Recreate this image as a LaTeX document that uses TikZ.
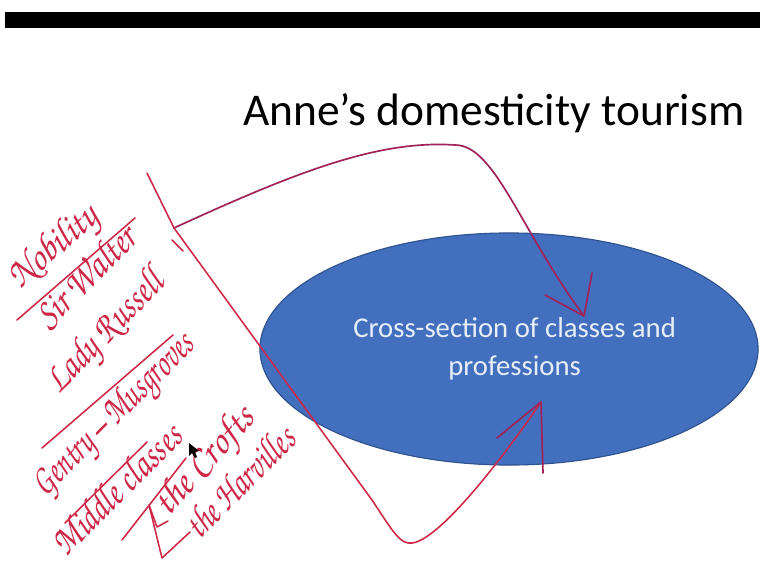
\documentclass[tikz,border=0pt]{standalone}
\usepackage[T1]{fontenc}
\usepackage{fontspec}
\setmainfont{Carlito}
\usepackage{graphicx}
\usetikzlibrary{shapes.geometric}

\definecolor{ink}{RGB}{206,38,70}
\definecolor{inkdark}{RGB}{160,34,88}
\definecolor{ovalblue}{RGB}{66,111,190}
\definecolor{ovaledge}{RGB}{47,82,143}
\newcommand{\hand}[2]{\resizebox{#1}{\height}{\usefont{T1}{pzc}{mb}{it}#2}}

\begin{document}
\begin{tikzpicture}[x=0.025cm,y=-0.025cm,
   note/.style={anchor=base west,inner sep=0pt,text=ink,font=\fontsize{29}{29}\selectfont},
   pen/.style={draw=ink,line width=1.1pt,line cap=round,line join=round},
   to/.style={draw=inkdark,line width=1.2pt,line cap=round,line join=round}]
\useasboundingbox (0,0) rectangle (760,565);
\fill[black] (5,12) rectangle (760,28);
\node[anchor=base west,inner sep=0pt,font=\fontsize{32.3}{38}\selectfont] (title) at (243,125) {Anne’s domesticity tourism};
\node[ellipse,fill=ovalblue,draw=ovaledge,line width=0.8pt,minimum width=12.45cm,minimum height=5.8cm,
   align=center,text=white!88!ovalblue,font=\fontsize{20.4}{27}\selectfont] (xsec) at (509,349)
   {\hspace*{8pt}Cross-section of classes and\\\hspace*{8pt}professions};
\node[note,rotate=41] (nobility) at (20,290) {\hand{2.65cm}{Nobility}};
\node[note,rotate=45] (walter) at (49,331) {\hand{3.18cm}{Sir Walter}};
\node[note,rotate=46] (russell) at (59,395) {\hand{3.83cm}{Lady Russell}};
\node[note,rotate=45] (gentry) at (45,498) {\hand{5.35cm}{Gentry -- Musgroves}};
\node[note,rotate=45] (middle) at (66,558) {\hand{4.2cm}{Middle classes}};
\node[note,rotate=48] (crofts) at (168,518) {\hand{3.3cm}{the Crofts}};
\node[note,rotate=45] (harvilles) at (199,541) {\hand{3.5cm}{the Harvilles}};
\draw[pen] (17,320) -- (135,218);
\draw[pen] (42,448) -- (173,335);
\draw[pen] (65,523) -- (147,442);
\draw[pen] (122,540) -- (186,458);
\draw[pen] (149,505) -- (157,527) -- (168,521);
\draw[pen] (149,505) -- (162,558) -- (190,532);
\coordinate (top) at (147,173);
\coordinate (fork) at (174,228);
\coordinate (upTip) at (584,316);
\coordinate (lowTip) at (541,402);
\draw[pen] (top) -- (fork);
\draw[pen] (172,240) -- (183,251);
\draw[to] (fork) .. controls (300,170) and (380,140) .. (455,145) .. controls (495,145) and (520,230) .. (upTip);
\draw[to] (545,295) -- (upTip) -- (592,273);
\draw[pen] (fork) -- (372,500) .. controls (392,530) and (400,545) .. (412,543) .. controls (440,540) and (505,455) .. (lowTip);
\draw[to] (497,438) -- (lowTip) -- (543,473);
\fill[black] (189,443) -- (189,456) -- (192,453) -- (195,458) -- (197,457) -- (195,452) -- (199,451) -- cycle;
\end{tikzpicture}
\end{document}
